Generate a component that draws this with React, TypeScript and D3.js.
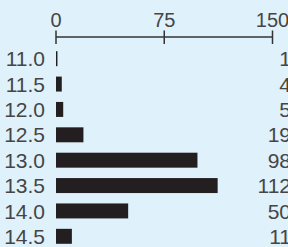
import React from "react";
import * as d3 from "d3";

const categories = ["11.0", "11.5", "12.0", "12.5", "13.0", "13.5", "14.0", "14.5"];
const counts = [1, 4, 5, 19, 98, 112, 50, 11];
const ticks = [0, 75, 150];

const W = 288;
const H = 247;
const font = "'Liberation Sans Narrow', 'Liberation Sans', Arial, sans-serif";

const App = () => {
  const x = d3.scaleLinear().domain([0, 150]).range([56, 272.5]);
  const y = d3
    .scaleBand()
    .domain(categories)
    .range([46, 249])
    .paddingInner(0.41)
    .paddingOuter(0.205);

  return (
    <svg
      width={W}
      height={H}
      style={{ position: "absolute", left: 0, top: 0, background: "#dff1fa" }}
      fontFamily={font}
      fontStretch="condensed"
    >
      {/* top axis */}
      <g>
        <line x1={x(0)} x2={x(150)} y1={37} y2={37} stroke="#333" strokeWidth={1.5} />
        {ticks.map((t) => (
          <g key={t}>
            <line x1={x(t)} x2={x(t)} y1={30.5} y2={44} stroke="#333" strokeWidth={1.5} />
            <text x={x(t)} y={26.5} textAnchor="middle" fontSize={20} fill="#454545">
              {t}
            </text>
          </g>
        ))}
      </g>

      {/* bars */}
      {categories.map((c, i) => {
        const yc = y(c)! + y.bandwidth() / 2;
        return (
          <g key={c}>
            <text x={45} y={yc + 7.6} textAnchor="end" fontSize={21} fill="#454545">
              {c}
            </text>
            <rect
              x={x(0)}
              y={y(c)}
              width={x(counts[i]) - x(0)}
              height={y.bandwidth()}
              fill="#231f20"
            />
            <text x={291} y={yc + 7.6} textAnchor="end" fontSize={21} fill="#454545">
              {counts[i]}
            </text>
          </g>
        );
      })}
    </svg>
  );
};

export default App;
